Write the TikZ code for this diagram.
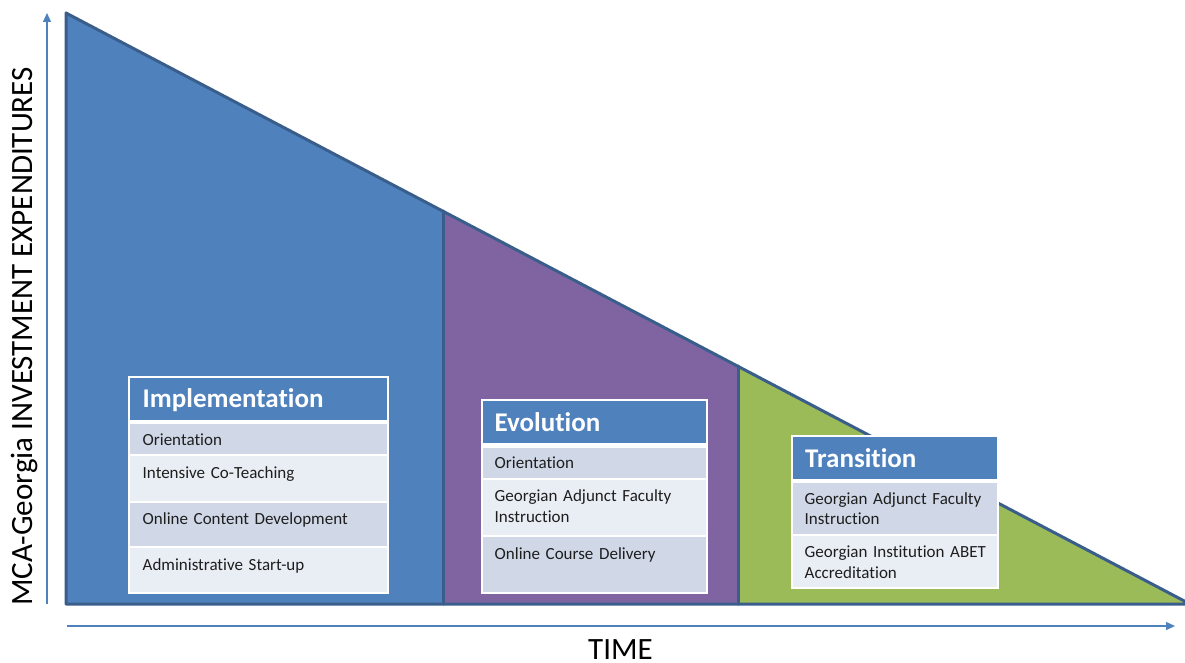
\documentclass[tikz,border=0pt]{standalone}
\usepackage{fontspec}
\setmainfont{Carlito}[Ligatures=NoCommon]
\usetikzlibrary{arrows.meta}

\definecolor{phaseblue}{HTML}{4F81BD}
\definecolor{phasepurple}{HTML}{8064A2}
\definecolor{phasegreen}{HTML}{9BBB59}
\definecolor{edgeblue}{HTML}{3A5E8C}
\definecolor{rowdark}{HTML}{D0D8E8}
\definecolor{rowlight}{HTML}{E9EDF4}
\definecolor{ink}{HTML}{1E1E1E}

\tikzset{
  edgeline/.style={draw=edgeblue, line width=3pt, line join=round, line cap=round},
  axisline/.style={draw=phaseblue, line width=1.4pt, -{Triangle[length=9pt,width=8pt]}},
  hdrbar/.style={fill=phaseblue},
  darkbar/.style={fill=rowdark},
  lightbar/.style={fill=rowlight},
  framebox/.style={fill=white},
  hdrtext/.style={anchor=base west, inner sep=0pt, text=white,
    font=\bfseries\fontsize{27}{32}\selectfont},
  itemtext/.style={anchor=base west, inner sep=0pt, text=ink, text width=240pt,
    align=left, font=\fontsize{17}{20.5}\selectfont},
  axislabel/.style={inner sep=0pt, text=black, font=\fontsize{31}{36}\selectfont},
}

\begin{document}
\begin{tikzpicture}[x=1pt,y=-1pt]
\useasboundingbox (0,0) rectangle (1185,663);

% corners of the expenditure triangle and the phase borders
\coordinate (top) at (66,13);
\coordinate (origin) at (66,604);
\coordinate (far) at (1190,604);
\coordinate (splitA) at (443,211);
\coordinate (splitAb) at (443,604);
\coordinate (splitB) at (738,366);
\coordinate (splitBb) at (738,604);

% phase areas
\fill[phaseblue] (top) -- (splitA) -- (splitAb) -- (origin) -- cycle;
\fill[phasepurple] (splitA) -- (splitB) -- (splitBb) -- (splitAb) -- cycle;
\fill[phasegreen] (splitB) -- (far) -- (splitBb) -- cycle;
\draw[edgeline] (top) -- (far) -- (origin) -- cycle;
\draw[edgeline] (splitA) -- (splitAb);
\draw[edgeline] (splitB) -- (splitBb);

% axes
\coordinate (yfoot) at (47,604);
\coordinate (ytip) at (47,13);
\coordinate (xfoot) at (67,626);
\coordinate (xtip) at (1175,626);
\draw[axisline] (yfoot) -- (ytip);
\draw[axisline] (xfoot) -- (xtip);
\node[axislabel, rotate=90, anchor=base] (ylab) at (32,336.5) {MCA-Georgia INVESTMENT EXPENDITURES};
\node[axislabel, anchor=base] (xlab) at (620.5,659) {TIME};

% Implementation
\fill[framebox] (128,376) rectangle (389,594);
\fill[hdrbar] (130,378) rectangle (387,420);
\fill[darkbar] (130,424) rectangle (387,454);
\fill[lightbar] (130,456) rectangle (387,501);
\fill[darkbar] (130,503) rectangle (387,546);
\fill[lightbar] (130,548) rectangle (387,592);
\node[hdrtext] (implH) at (142.5,407) {Implementation};
\node[itemtext] (impl1) at (142.5,445) {Orientation};
\node[itemtext] (impl2) at (142.5,478) {Intensive Co-Teaching};
\node[itemtext] (impl3) at (142.5,524) {Online Content Development};
\node[itemtext] (impl4) at (142.5,570) {Administrative Start-up};

% Evolution
\fill[framebox] (481,399) rectangle (708,594);
\fill[hdrbar] (483,401) rectangle (706,443);
\fill[darkbar] (483,448) rectangle (706,478);
\fill[lightbar] (483,480) rectangle (706,535);
\fill[darkbar] (483,537) rectangle (706,592);
\node[hdrtext] (evoH) at (494.5,431) {Evolution};
\node[itemtext] (evo1) at (494.5,468) {Orientation};
\node[itemtext] (evo2) at (494.5,501.5) {Georgian Adjunct Faculty\\Instruction};
\node[itemtext] (evo3) at (494.5,559) {Online Course Delivery};

% Transition
\fill[framebox] (791,435) rectangle (999,589);
\fill[hdrbar] (793,437) rectangle (997,479);
\fill[darkbar] (793,483) rectangle (997,534);
\fill[lightbar] (793,536) rectangle (997,587);
\node[hdrtext] (traH) at (805,467) {Transition};
\node[itemtext] (tra1) at (804.5,504) {Georgian Adjunct Faculty\\Instruction};
\node[itemtext] (tra2) at (804.5,557.5) {Georgian Institution ABET\\Accreditation};
\end{tikzpicture}
\end{document}
